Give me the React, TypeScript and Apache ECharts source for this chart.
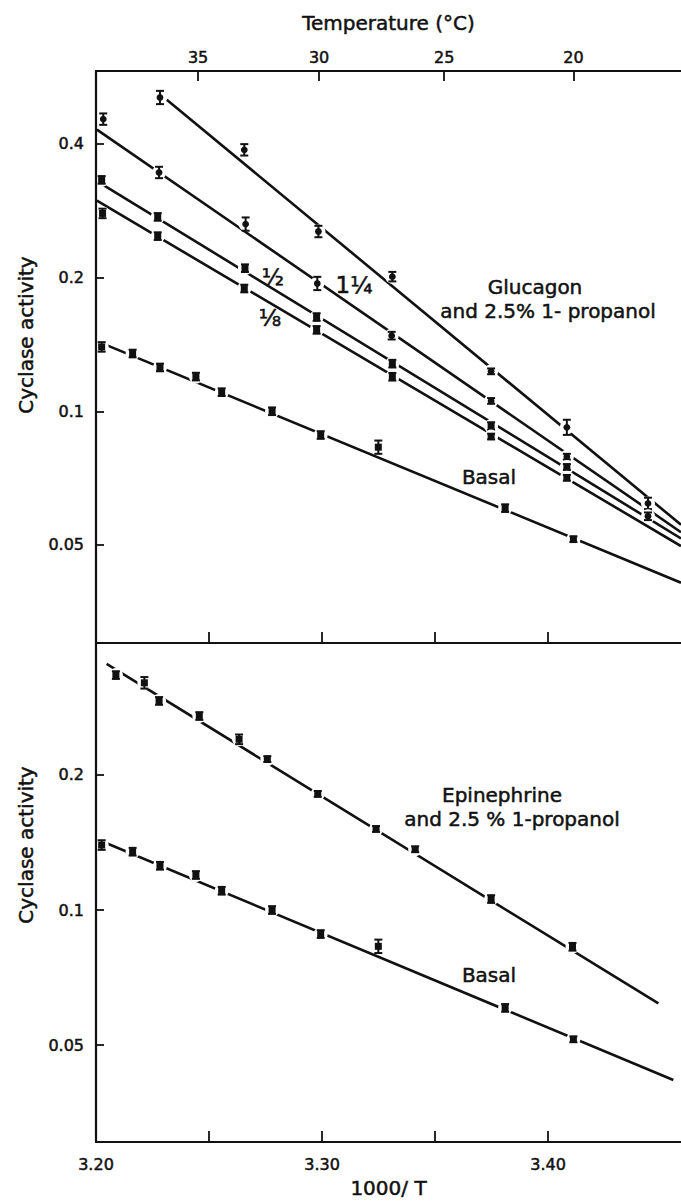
import React, { useEffect, useRef } from "react";
import * as echarts from "echarts";

// ---------- axis ranges / ticks ----------
const X_MIN = 3.2;
const X_MAX = 3.4588;
const TOP_Y_MIN = 0.03006;
const TOP_Y_MAX = 0.584;
const BOT_Y_MIN = 0.0304;
const BOT_Y_MAX = 0.3938;

const tempTicks = [35, 30, 25, 20]; // °C, top axis
const xTickValues = [3.25, 3.3, 3.35, 3.4];
const xLabelValues = [3.2, 3.3, 3.4];
const yTicksTop = [0.05, 0.1, 0.2, 0.4];
const yTicksBottom = [0.05, 0.1, 0.2];

// ---------- Glucagon panel ----------
// unlabelled top line
const glucAX = [3.2283, 3.2656, 3.2984, 3.3311, 3.3748, 3.4083, 3.4442];
const glucAY = [0.509, 0.388, 0.254, 0.201, 0.123, 0.092, 0.062];
const glucAErr = [0.035, 0.03, 0.03, 0.025, 0.015, 0.04, 0.03];
const glucAFit = [[3.2313, 0.503], [3.4588, 0.0555]];

// 1 1/4
const glucBX = [3.2032, 3.2279, 3.2662, 3.2979, 3.3308, 3.3748, 3.4083, 3.4442];
const glucBY = [0.455, 0.345, 0.264, 0.194, 0.148, 0.1055, 0.079, 0.058];
const glucBErr = [0.03, 0.03, 0.035, 0.035, 0.02, 0.015, 0.015, 0.02];
const glucBFit = [[3.2004, 0.431], [3.4588, 0.0534]];

// 1/2
const glucCX = [3.2025, 3.2273, 3.2659, 3.2976, 3.3311, 3.3748, 3.4083];
const glucCY = [0.332, 0.274, 0.21, 0.163, 0.128, 0.0926, 0.0749];
const glucCErr = [0.02, 0.02, 0.02, 0.02, 0.02, 0.02, 0.015];
const glucCFit = [[3.2004, 0.33], [3.4588, 0.0517]];

// 1/8
const glucDX = [3.2029, 3.2273, 3.2656, 3.2976, 3.3311, 3.3748, 3.4083];
const glucDY = [0.279, 0.248, 0.189, 0.1525, 0.1196, 0.0877, 0.0708];
const glucDErr = [0.025, 0.02, 0.02, 0.02, 0.02, 0.015, 0.015];
const glucDFit = [[3.2004, 0.298], [3.4588, 0.0497]];

// ---------- Basal (both panels) ----------
const basalX = [3.2025, 3.2162, 3.2283, 3.2442, 3.2556, 3.2779, 3.2994, 3.3249, 3.381, 3.4112];
const basalY = [0.1396, 0.1349, 0.1255, 0.1197, 0.1104, 0.1, 0.0884, 0.083, 0.0605, 0.0515];
const basalErr = [0.025, 0.02, 0.02, 0.02, 0.02, 0.02, 0.02, 0.035, 0.02, 0.015];
const basalFitTop = [[3.2044, 0.1411], [3.4588, 0.0411]];
const basalFitBottom = [[3.2044, 0.1411], [3.4554, 0.0418]];

// ---------- Epinephrine panel ----------
const epiX = [3.2088, 3.2214, 3.2279, 3.2457, 3.2633, 3.2758, 3.2981, 3.3239, 3.3412, 3.3748, 3.4108];
const epiY = [0.334, 0.321, 0.2925, 0.2707, 0.2402, 0.217, 0.1815, 0.1516, 0.1366, 0.1058, 0.0828];
const epiErr = [0.02, 0.03, 0.02, 0.02, 0.025, 0.015, 0.015, 0.015, 0.015, 0.02, 0.02];
const epiFit = [[3.2047, 0.3536], [3.4488, 0.0619]];

const FONT = "DejaVu Sans";
const BLACK = "#111";

function fitLine(name: string, data: number[][], xi: number, yi: number) {
  return {
    type: "line",
    name,
    xAxisIndex: xi,
    yAxisIndex: yi,
    data,
    showSymbol: false,
    symbol: "none",
    silent: true,
    z: 2,
    lineStyle: { color: BLACK, width: 2.6 },
  };
}

function errSeries(
  name: string,
  xs: number[],
  ys: number[],
  errs: number[],
  shape: "circle" | "square",
  xi: number,
  yi: number
) {
  return {
    type: "custom",
    name,
    xAxisIndex: xi,
    yAxisIndex: yi,
    z: 5,
    silent: true,
    data: xs.map((x, i) => [x, ys[i], errs[i]]),
    renderItem: (_params: any, api: any) => {
      const x = api.value(0);
      const v = api.value(1);
      const e = api.value(2);
      const c = api.coord([x, v]);
      const t = api.coord([x, v * (1 + e)]);
      const b = api.coord([x, v / (1 + e)]);
      const st = { stroke: BLACK, lineWidth: 2, fill: null };
      const marker =
        shape === "circle"
          ? { type: "circle", shape: { cx: c[0], cy: c[1], r: 3.4 }, style: { fill: BLACK } }
          : { type: "rect", shape: { x: c[0] - 3.5, y: c[1] - 3.5, width: 7, height: 7 }, style: { fill: BLACK } };
      return {
        type: "group",
        children: [
          { type: "circle", shape: { cx: c[0], cy: c[1], r: 7 }, style: { fill: "#fff" } },
          { type: "line", shape: { x1: c[0], y1: t[1], x2: c[0], y2: b[1] }, style: st },
          { type: "line", shape: { x1: c[0] - 4, y1: t[1], x2: c[0] + 4, y2: t[1] }, style: st },
          { type: "line", shape: { x1: c[0] - 4, y1: b[1], x2: c[0] + 4, y2: b[1] }, style: st },
          marker,
        ],
      };
    },
  };
}

const axisLineStyle = { color: BLACK, width: 2.2 };
const tickStyle = { color: BLACK, width: 1.8 };
const labelStyle = {
  color: BLACK,
  fontFamily: FONT,
  fontSize: 16,
  textBorderColor: BLACK,
  textBorderWidth: 0.5,
};
const nameStyle = {
  color: BLACK,
  fontFamily: FONT,
  fontSize: 20,
  textBorderColor: BLACK,
  textBorderWidth: 0.5,
};
const fmtY = (v: number) => String(Number(Number(v).toPrecision(2)));

function label(text: string, x: number, y: number, size = 20, rotation = 0) {
  return {
    type: "text",
    x,
    y,
    rotation,
    z: 20,
    style: {
      text,
      fill: BLACK,
      stroke: BLACK,
      lineWidth: 0.5,
      font: `${size}px "${FONT}"`,
      align: "center",
      verticalAlign: "middle",
    },
  };
}

export default function App() {
  const ref = useRef<HTMLDivElement>(null);

  useEffect(() => {
    if (!ref.current) return;
    const chart = echarts.init(ref.current, undefined, { renderer: "svg" });
    const tempPos = tempTicks.map((t) => 1000 / (t + 273.15));

    const option: any = {
      animation: false,
      backgroundColor: "#fff",
      textStyle: { fontFamily: FONT },
      grid: [
        { left: 96, top: 71, width: 585, height: 572, containLabel: false, outerBoundsMode: "none" },
        { left: 96, top: 643, width: 585, height: 499, containLabel: false, outerBoundsMode: "none" },
      ],
      xAxis: [
        {
          gridIndex: 0,
          type: "value",
          z: 10,
          min: X_MIN,
          max: X_MAX,
          position: "bottom",
          axisLine: { show: true, onZero: false, lineStyle: axisLineStyle },
          axisTick: { show: true, inside: true, length: 11, customValues: xTickValues, lineStyle: tickStyle },
          axisLabel: { show: false },
          splitLine: { show: false },
        },
        {
          gridIndex: 0,
          type: "value",
          z: 10,
          min: X_MIN,
          max: X_MAX,
          position: "top",
          name: "Temperature (°C)",
          nameLocation: "middle",
          nameGap: 38,
          nameTextStyle: nameStyle,
          axisLine: { show: true, onZero: false, lineStyle: axisLineStyle },
          axisTick: { show: true, inside: true, length: 10, customValues: tempPos, lineStyle: tickStyle },
          axisLabel: {
            show: true,
            customValues: tempPos,
            margin: 6,
            formatter: (v: number) => String(Math.round(1000 / v - 273.15)),
            ...labelStyle,
          },
          splitLine: { show: false },
        },
        {
          gridIndex: 1,
          type: "value",
          z: 10,
          min: X_MIN,
          max: X_MAX,
          position: "bottom",
          name: "1000/ T",
          nameLocation: "middle",
          nameGap: 36,
          nameTextStyle: nameStyle,
          axisLine: { show: true, onZero: false, lineStyle: axisLineStyle },
          axisTick: { show: true, inside: true, length: 11, customValues: xTickValues, lineStyle: tickStyle },
          axisLabel: {
            show: true,
            customValues: xLabelValues,
            margin: 14,
            formatter: (v: number) => Number(v).toFixed(2),
            ...labelStyle,
          },
          splitLine: { show: false },
        },
      ],
      yAxis: [
        {
          gridIndex: 0,
          type: "log",
          logBase: 10,
          z: 10,
          min: TOP_Y_MIN,
          max: TOP_Y_MAX,
          axisLine: { show: true, onZero: false, lineStyle: axisLineStyle },
          axisTick: { show: true, inside: true, length: 8, customValues: yTicksTop, lineStyle: tickStyle },
          axisLabel: { show: true, customValues: yTicksTop, margin: 12, formatter: fmtY, ...labelStyle },
          minorTick: { show: false },
          splitLine: { show: false },
        },
        {
          gridIndex: 1,
          type: "log",
          logBase: 10,
          z: 10,
          min: BOT_Y_MIN,
          max: BOT_Y_MAX,
          axisLine: { show: true, onZero: false, lineStyle: axisLineStyle },
          axisTick: { show: true, inside: true, length: 8, customValues: yTicksBottom, lineStyle: tickStyle },
          axisLabel: { show: true, customValues: yTicksBottom, margin: 12, formatter: fmtY, ...labelStyle },
          minorTick: { show: false },
          splitLine: { show: false },
        },
      ],
      graphic: [
        label("Cyclase activity", 26, 335, 20, Math.PI / 2),
        label("Cyclase activity", 26, 845, 20, Math.PI / 2),
        label("Glucagon", 535, 287),
        label("and 2.5% 1- propanol", 548, 311),
        label("½", 273, 277, 23),
        label("⅛", 270, 318, 23),
        label("1¼", 354, 285, 23),
        label("Basal", 489, 477),
        label("Epinephrine", 502, 795),
        label("and 2.5 % 1-propanol", 512, 819),
        label("Basal", 489, 975),
      ],
      series: [
        fitLine("Glucagon fit", glucAFit, 0, 0),
        fitLine("1¼ fit", glucBFit, 0, 0),
        fitLine("½ fit", glucCFit, 0, 0),
        fitLine("⅛ fit", glucDFit, 0, 0),
        fitLine("Basal fit (top)", basalFitTop, 0, 0),
        fitLine("Epinephrine fit", epiFit, 2, 1),
        fitLine("Basal fit (bottom)", basalFitBottom, 2, 1),
        errSeries("Glucagon", glucAX, glucAY, glucAErr, "circle", 0, 0),
        errSeries("1¼", glucBX, glucBY, glucBErr, "circle", 0, 0),
        errSeries("½", glucCX, glucCY, glucCErr, "square", 0, 0),
        errSeries("⅛", glucDX, glucDY, glucDErr, "square", 0, 0),
        errSeries("Basal (top)", basalX, basalY, basalErr, "square", 0, 0),
        errSeries("Epinephrine", epiX, epiY, epiErr, "square", 2, 1),
        errSeries("Basal (bottom)", basalX, basalY, basalErr, "square", 2, 1),
      ],
    };

    chart.setOption(option);
    return () => chart.dispose();
  }, []);

  return <div ref={ref} style={{ position: "absolute", left: 0, top: 0, width: 681, height: 1202 }} />;
}
